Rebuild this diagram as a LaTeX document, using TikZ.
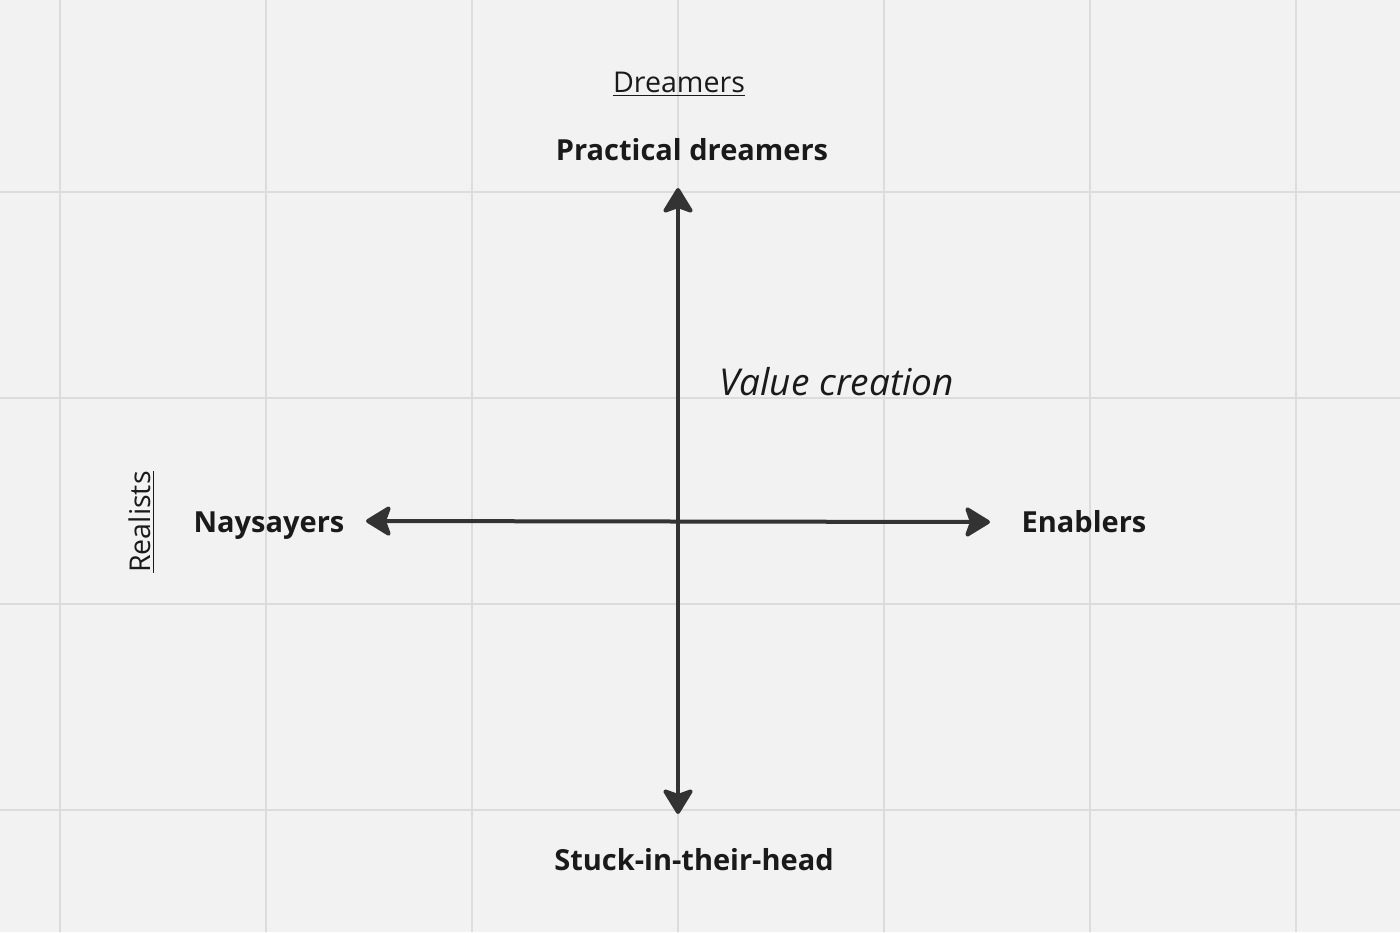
\documentclass[tikz,border=0pt]{standalone}
\usepackage{fontspec}
\setmainfont{Open Sans}
\usetikzlibrary{arrows.meta}
\definecolor{bggray}{HTML}{F2F2F2}
\definecolor{gridgray}{HTML}{DCDCDC}
\definecolor{axisgray}{HTML}{333333}
\definecolor{textblack}{HTML}{1A1A1A}

\begin{document}
\begin{tikzpicture}[x=0.5pt, y=-0.5pt,
  quadlabel/.style={font=\bfseries\fontsize{14.5}{17}\selectfont, text=textblack, inner sep=0pt, anchor=base},
  axislabel/.style={font=\fontsize{14.3}{17}\selectfont, text=textblack, inner sep=0pt, anchor=base},
  axisarrow/.style={draw=axisgray, fill=axisgray, line width=2pt,
    arrows={Stealth[length=14pt, width=17pt, inset=3pt, round]-Stealth[length=14pt, width=17pt, inset=3pt, round]}}]

% background and grid
\fill[bggray] (0,0) rectangle (1400,932);
\useasboundingbox (0,0) rectangle (1400,932);
\foreach \gx in {60,266,472,678,884,1090,1296}
  \draw[gridgray, line width=1pt] (\gx,0) -- (\gx,932);
\foreach \gy in {192,398,604,810}
  \draw[gridgray, line width=1pt] (0,\gy) -- (1400,\gy);

% axis ends
\coordinate (top) at (678,188);
\coordinate (bottom) at (678,814);
\coordinate (left) at (366,521);
\coordinate (right) at (990,522);

% labels
\node[axislabel] (dreamers) at (679,92) {\underline{Dreamers}};
\node[axislabel, rotate=90] (realists) at (150,522) {\underline{Realists}};
\node[quadlabel] (practical) at (692,160) {Practical dreamers};
\node[quadlabel] (stuck) at (694,870) {Stuck-in-their-head};
\node[quadlabel] (naysayers) at (269,532) {Naysayers};
\node[quadlabel] (enablers) at (1084,532) {Enablers};
\node[font=\itshape\fontsize{18.5}{22}\selectfont, text=textblack, inner sep=0pt, anchor=base west] (value) at (719,395) {Value creation};

% axes
\draw[axisarrow] (bottom) -- (top);
\draw[axisarrow] (left) -- (right);

\end{tikzpicture}
\end{document}
